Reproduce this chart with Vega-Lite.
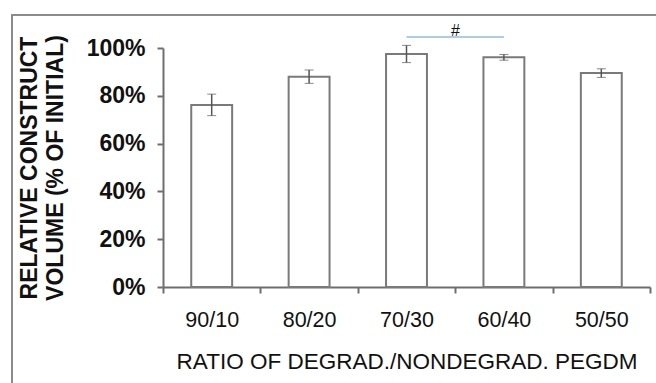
{
  "$schema": "https://vega.github.io/schema/vega-lite/v6.json",
  "autosize": {"type": "none"},
  "padding": {"left": 12, "top": 15, "right": -56, "bottom": -12},
  "width": 700,
  "height": 380,
  "background": "white",
  "config": {
    "view": {"stroke": "#8c8c8c", "strokeWidth": 2, "fill": "white"},
    "font": "Liberation Sans"
  },
  "resolve": {"axis": {"x": "independent", "y": "independent"}},
  "datasets": {
    "volume": [
      {"ratio": "90/10", "value": 0.762, "err": 0.045},
      {"ratio": "80/20", "value": 0.880, "err": 0.028},
      {"ratio": "70/30", "value": 0.975, "err": 0.036},
      {"ratio": "60/40", "value": 0.961, "err": 0.012},
      {"ratio": "50/50", "value": 0.895, "err": 0.018}
    ],
    "significance": [
      {"from": "70/30", "to": "60/40", "level": 1.046, "label": "#"}
    ]
  },
  "layer": [
    {
      "data": {"name": "volume"},
      "mark": {"type": "bar", "width": {"band": 0.42}, "fill": "white", "stroke": "#7a7a7a", "strokeWidth": 2},
      "encoding": {
        "x": {
          "field": "ratio",
          "type": "nominal",
          "scale": {"domain": ["90/10", "80/20", "70/30", "60/40", "50/50"], "range": [151, 638], "paddingInner": 0, "paddingOuter": 0},
          "axis": {
            "title": "RATIO OF DEGRAD./NONDEGRAD. PEGDM",
            "offset": -108,
            "labelAngle": 0,
            "tickBand": "extent",
            "domainColor": "#6e6e6e",
            "domainWidth": 2,
            "tickColor": "#6e6e6e",
            "tickWidth": 2,
            "tickSize": 6,
            "labelFontSize": 21.5,
            "labelColor": "#111",
            "labelPadding": 16,
            "titleFontSize": 22.5,
            "titleFontWeight": "normal",
            "titleColor": "#111",
            "titlePadding": 20
          }
        },
        "y": {
          "field": "value",
          "type": "quantitative",
          "scale": {"domain": [0, 1], "range": [272, 33], "nice": false},
          "axis": {
            "title": ["RELATIVE CONSTRUCT", "VOLUME (% OF INITIAL)"],
            "offset": -151,
            "values": [0, 0.2, 0.4, 0.6, 0.8, 1],
            "format": ".0%",
            "grid": false,
            "domainColor": "#6e6e6e",
            "domainWidth": 2,
            "tickColor": "#6e6e6e",
            "tickWidth": 2,
            "tickSize": 6,
            "labelFontSize": 23,
            "labelFontWeight": "bold",
            "labelColor": "#111",
            "labelPadding": 12,
            "titleFontSize": 23,
            "titleFontWeight": "bold",
            "titleColor": "#111",
            "titleLineHeight": 26,
            "titlePadding": 19
          }
        }
      }
    },
    {
      "data": {"name": "volume"},
      "mark": {
        "type": "errorbar",
        "ticks": {"size": 9, "color": "#555", "strokeWidth": 1.5},
        "rule": {"color": "#555", "strokeWidth": 1.5}
      },
      "encoding": {
        "x": {"field": "ratio", "type": "nominal", "axis": null},
        "y": {"field": "value", "type": "quantitative", "axis": null},
        "yError": {"field": "err"}
      }
    },
    {
      "data": {"name": "significance"},
      "mark": {"type": "rule", "color": "#5b9bd5", "strokeWidth": 1.2},
      "encoding": {
        "x": {"field": "from", "type": "nominal", "axis": null},
        "x2": {"field": "to"},
        "y": {"field": "level", "type": "quantitative", "axis": null}
      }
    },
    {
      "data": {"name": "significance"},
      "mark": {"type": "text", "fontSize": 16, "fontStyle": "italic", "color": "#111", "baseline": "alphabetic", "dy": -1},
      "encoding": {
        "x": {"field": "from", "type": "nominal", "bandPosition": 1, "axis": null},
        "y": {"field": "level", "type": "quantitative", "axis": null},
        "text": {"field": "label"}
      }
    }
  ]
}
